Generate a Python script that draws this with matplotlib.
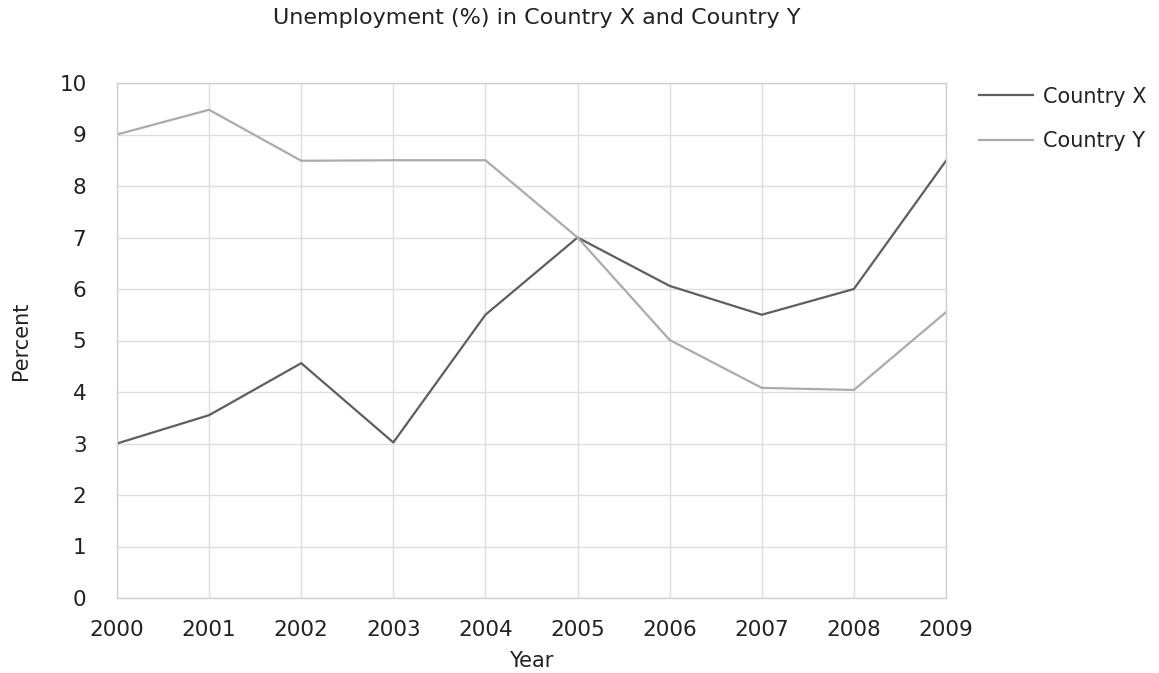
import matplotlib
matplotlib.use("Agg")
import matplotlib.pyplot as plt

# data
years = [2000, 2001, 2002, 2003, 2004, 2005, 2006, 2007, 2008, 2009]
country_x = [3.0, 3.55, 4.56, 3.02, 5.5, 7.0, 6.06, 5.5, 6.0, 8.49]
country_y = [9.0, 9.48, 8.49, 8.5, 8.5, 7.0, 5.01, 4.08, 4.04, 5.55]
y_ticks = list(range(0, 11))


def main():
    plt.rcParams["font.family"] = ["DejaVu Sans"]
    fig = plt.figure(figsize=(11.59, 6.73), dpi=100)
    ax = fig.add_axes([117 / 1159, 75 / 673, (946 - 117) / 1159, (598 - 83) / 673])

    ax.plot(years, country_x, color="#5e5e5e", lw=1.6, label="Country X")
    ax.plot(years, country_y, color="#ababab", lw=1.6, label="Country Y")

    ax.set_xlim(years[0], years[-1])
    ax.set_ylim(0, 10)
    ax.set_xticks(years)
    ax.set_yticks(y_ticks)
    ax.grid(True, color="#dedede", lw=1)
    ax.set_axisbelow(True)
    for s in ax.spines.values():
        s.set_color("#d0d0d0")
        s.set_linewidth(1)
    ax.tick_params(length=0, labelsize=15.5, colors="#222222", pad=16)
    ax.tick_params(axis="y", pad=22)

    ax.set_xlabel("Year", fontsize=15, color="#222222", labelpad=8)
    ax.set_ylabel("Percent", fontsize=15, color="#222222", labelpad=20)
    fig.text(537 / 1159, 1 - 18 / 673, "Unemployment (%) in Country X and Country Y",
             ha="center", va="center", fontsize=16, color="#222222")

    ax.legend(loc="upper left", bbox_to_anchor=(960 / 1159, 1 - 68 / 673),
              bbox_transform=fig.transFigure, frameon=False, fontsize=15,
              handlelength=2.6, handletextpad=0.5, labelspacing=1.18,
              labelcolor="#222222")

    fig.savefig("out.png", dpi=100)


main()
